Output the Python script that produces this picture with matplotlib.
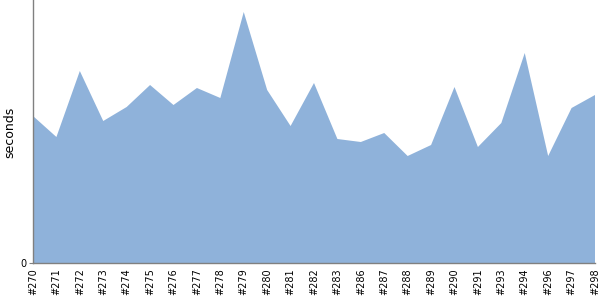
import matplotlib
matplotlib.use('Agg')
import matplotlib.pyplot as plt
import numpy as np

### Data
builds = ['#270', '#271', '#272', '#273', '#274', '#275', '#276', '#277', '#278',
          '#279', '#280', '#281', '#282', '#283', '#286', '#287', '#288', '#289',
          '#290', '#291', '#293', '#294', '#296', '#297', '#298']
durations = [147, 126, 192, 142, 156, 178, 158, 175, 165,
             251, 173, 137, 180, 124, 121, 130, 107, 118,
             176, 116, 140, 210, 107, 155, 168]

### Style
fill_c = '#8fb2da'
axis_c = '#808080'

fig = plt.figure(figsize=(6, 3), dpi=100)
ax = fig.add_axes([33/600, 37/300, 562/600, 263/300])

x = np.arange(len(builds))
ax.fill_between(x, 0, durations, facecolor=fill_c, edgecolor='none', linewidth=0)

ax.set_xlim(0, len(builds) - 1)
ax.set_ylim(0, 263)

ax.set_xticks(x)
ax.set_xticklabels(builds, rotation=90, fontsize=7)
ax.tick_params(axis='x', length=0, pad=4)
ax.set_yticks([0])
ax.set_yticklabels(['0'], fontsize=7)
ax.tick_params(axis='y', length=3, color=axis_c, pad=2)

# y label placed in figure pixels so it is not clipped
fig.text(10/600, 168/300, 'seconds', rotation=90, ha='center', va='center', fontsize=9)

for s in ['top', 'right']:
    ax.spines[s].set_visible(False)
for s in ['left', 'bottom']:
    ax.spines[s].set_color(axis_c)
    ax.spines[s].set_linewidth(1)

fig.savefig('out.png', dpi=100)
